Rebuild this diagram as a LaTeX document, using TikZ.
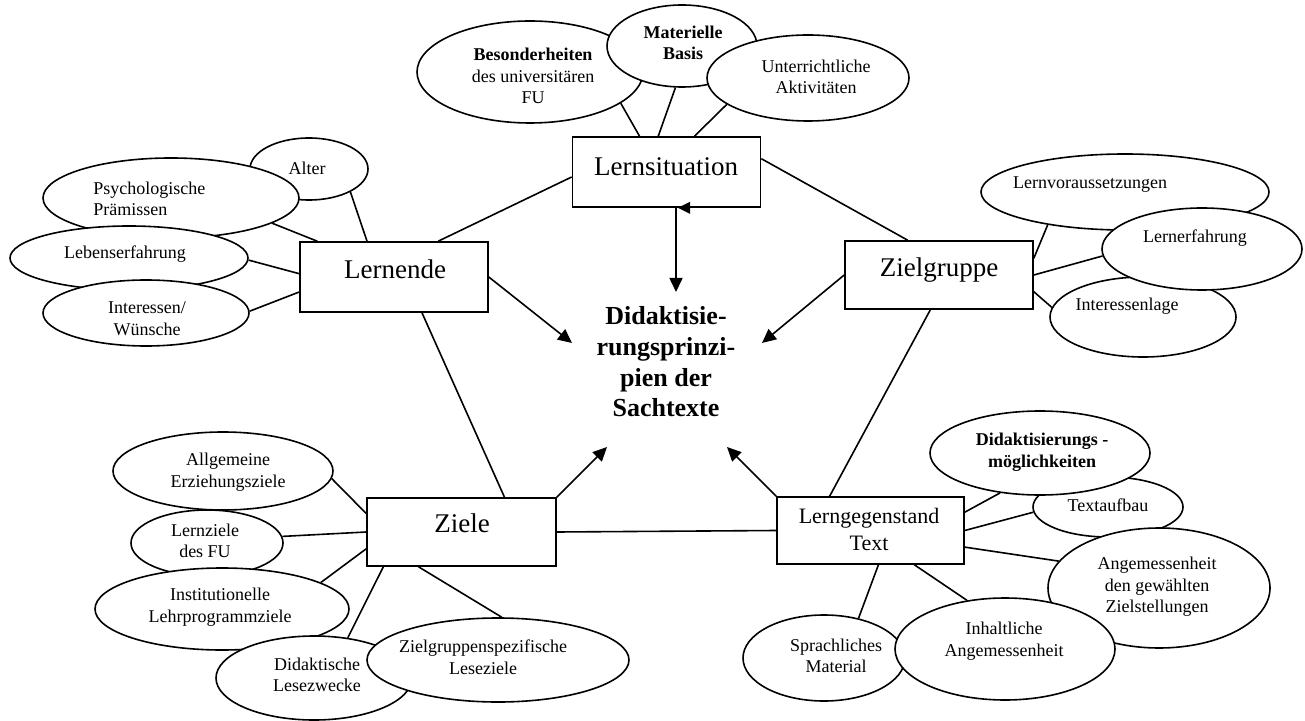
\documentclass[tikz,border=0pt]{standalone}
\usepackage{fontspec}
\setmainfont{Liberation Serif}
\usetikzlibrary{shapes.geometric,arrows.meta,backgrounds,calc}
\begin{document}
\begin{tikzpicture}[x=0.5pt,y=-0.5pt,
  ell/.style={ellipse, draw, fill=white, line width=0.8pt, inner sep=0pt},
  esz/.style 2 args={minimum width=#1pt, minimum height=#2pt},
  box/.style={rectangle, draw, fill=white, line width=0.8pt, inner sep=0pt},
  bsz/.style 2 args={minimum width=#1pt, minimum height=#2pt},
  lbl/.style={align=center, inner sep=0pt, font=\fontsize{9}{10.8}\selectfont},
  btxt/.style={align=center, inner sep=0pt, font=\fontsize{13.5}{15}\selectfont},
  con/.style={line width=0.8pt},
  arr/.style={con, -{Triangle[length=7pt,width=6.5pt]}}]

\useasboundingbox (0,0) rectangle (1305,721);

% ---------- ellipses: Lernsituation ----------
\node[ell, esz={113}{51}] (bes) at (530,72) {};
\node[ell, esz={75}{41}]  (mb)  at (682,46) {};
\node[ell, esz={101}{43}] (ua)  at (808,78) {};

% ---------- ellipses: Lernende ----------
\node[ell, esz={59}{31}]  (alt) at (309,169) {};
\node[ell, esz={128}{40}] (psy) at (171,198) {};
\node[ell, esz={119}{32}] (leb) at (129,258) {};
\node[ell, esz={103}{33}] (int) at (146,313) {};

% ---------- ellipses: Zielgruppe ----------
\node[ell, esz={144}{38}] (lv) at (1125,192) {};
\node[ell, esz={93}{40}]  (il) at (1143,317) {};
\node[ell, esz={100}{41}] (lf) at (1202,249) {};

% ---------- ellipses: Ziele ----------
\node[ell, esz={110}{39}] (ae)  at (223,471) {};
\node[ell, esz={76}{33}]  (lz)  at (207,543) {};
\node[ell, esz={127}{41}] (ins) at (222,609) {};
\node[ell, esz={98}{42}]  (did) at (314,678) {};
\node[ell, esz={131}{42}] (zls) at (498,660) {};

% ---------- ellipses: Lerngegenstand ----------
\node[ell, esz={75}{30}]  (ta) at (1108,507) {};
\node[ell, esz={110}{42}] (dm) at (1040,453) {};
\node[ell, esz={111}{60}] (ag) at (1159,588) {};
\node[ell, esz={81}{43}]  (sm) at (824,658) {};
\node[ell, esz={110}{51}] (ia) at (1005,649) {};

% ---------- boxes ----------
\node[box, bsz={94}{35}]   (ls) at (666.5,172) {};
\node[box, bsz={94}{35}]   (le) at (394,277) {};
\node[box, bsz={94}{34}]   (zg) at (939,275) {};
\node[box, bsz={94.5}{34}] (zi) at (461.5,532) {};
\node[box, bsz={93.5}{33.5}] (lg) at (870.5,530.5) {};

% ---------- central topic ----------
\node[align=center, inner sep=0pt, font=\bfseries\fontsize{13}{15.3}\selectfont]
  (ctr) at (666,362) {Didaktisie-\\rungsprinzi-\\pien der\\Sachtexte};

\coordinate (tN)  at (676,292);
\coordinate (tW)  at (572,343);
\coordinate (tE)  at (762,343);
\coordinate (tSW) at (607,447);
\coordinate (tSE) at (727,447);

% ---------- connectors ----------
\begin{pgfonlayer}{background}
  % Lernsituation
  \draw[con] (ls.127.1) -- (bes.-19.5);
  \draw[con] (ls.103.7) -- (mb.-99.7);
  \draw[con] (ls.52.9)  -- (ua.198.4);
  \draw[con] (ls.183)   -- (le.39.1);
  \draw[con] (ls.8.5)   -- (zg.132.4);
  % Lernende
  \draw[con] (le.127.6) -- (alt.-29.2);
  \draw[con] (le.155.3) -- (psy.-14);
  \draw[con] (le.178.8) -- (leb.-1.9);
  \draw[con] (le.189.1) -- (int.1.7);
  \draw[con] (le.-52.3) -- (zi.39.3);
  % Zielgruppe
  \draw[con] (zg.10.8)   -- (lv.203.2);
  \draw[con] (zg.0)      -- (lf.184.6);
  \draw[con] (zg.-10.2)  -- (il.174.5);
  \draw[con] (zg.-104.8) -- (lg.140.4);
  % Ziele
  \draw[con] (zi.169.7) -- (ae.-4.7);
  \draw[con] (zi.180.6) -- (lz.5);
  \draw[con] (zi.190.9) -- (ins.15.1);
  \draw[con] (zi.204)   -- (did.50);
  \draw[con] (zi.219.3) -- (zls.85);
  \draw[con] (zi.east)  -- (lg.west);
  % Lerngegenstand Text
  \draw[con] (lg.11.2)  -- (dm.225.7);
  \draw[con] (lg.0)     -- (ta.184.6);
  \draw[con] (lg.-10.6) -- (ag.165.4);
  \draw[con] (lg.-38.2) -- (ia.128.3);
  \draw[con] (lg.-77.4) -- (sm.49.3);
  % arrows into the central topic
  \draw[arr] ([xshift=4.75pt]ls.south) -- (tN);
  \draw[arr] (le.east) -- (tW);
  \draw[arr] (zg.west) -- (tE);
  \draw[arr] (zi.north east) -- (tSW);
  \draw[arr] (lg.north west) -- (tSE);
\end{pgfonlayer}

% small mark under the Lernsituation box
\fill ($(ls.south)+(11.5,0)$) -- ++(12,-6) -- ++(0,12) -- cycle;

% ---------- box texts ----------
\node[btxt] (ls-t) at (666,167) {Lernsituation};
\node[btxt] (le-t) at (395,269) {Lernende};
\node[btxt] (zg-t) at (939,270) {Zielgruppe};
\node[btxt] (zi-t) at (462,523) {Ziele};
\node[align=center, inner sep=0pt, font=\fontsize{11}{13.5}\selectfont]
  (lg-t) at (869,529) {Lerngegenstand\\Text};

% ---------- ellipse texts ----------
\node[lbl] (bes-t) at (533,76) {\textbf{Besonderheiten}\\des universitären\\FU};
\node[lbl, font=\bfseries\fontsize{9}{10.8}\selectfont] (mb-t) at (683,43) {Materielle\\Basis};
\node[lbl] (ua-t) at (816,77) {Unterrichtliche\\Aktivitäten};

\node[lbl] (alt-t) at (307,168) {Alter};
\node[lbl, align=left, anchor=west] (psy-t) at (93,199) {Psychologische\\Prämissen};
\node[lbl] (leb-t) at (125,254) {Lebenserfahrung};
\node[lbl] (int-t) at (147,319) {Interessen/\\Wünsche};

\node[lbl] (lv-t) at (1090,185) {Lernvoraussetzungen};
\node[lbl] (lf-t) at (1195,238) {Lernerfahrung};
\node[lbl] (il-t) at (1127,306) {Interessenlage};

\node[lbl] (ae-t)  at (228,472) {Allgemeine\\Erziehungsziele};
\node[lbl] (lz-t)  at (205,541) {Lernziele\\des FU};
\node[lbl] (ins-t) at (220,607) {Institutionelle\\Lehrprogrammziele};
\node[lbl] (did-t) at (317,675) {Didaktische\\Lesezwecke};
\node[lbl] (zls-t) at (483,657) {Zielgruppenspezifische\\Leseziele};

\node[lbl, font=\bfseries\fontsize{9}{10.8}\selectfont] (dm-t) at (1042,452) {Didaktisierungs -\\möglichkeiten};
\node[lbl] (ta-t) at (1108,505) {Textaufbau};
\node[lbl] (ag-t) at (1157,587) {Angemessenheit\\den gewählten\\Zielstellungen};
\node[lbl] (ia-t) at (1004,641) {Inhaltliche\\Angemessenheit};
\node[lbl] (sm-t) at (836,656) {Sprachliches\\Material};
\end{tikzpicture}
\end{document}
